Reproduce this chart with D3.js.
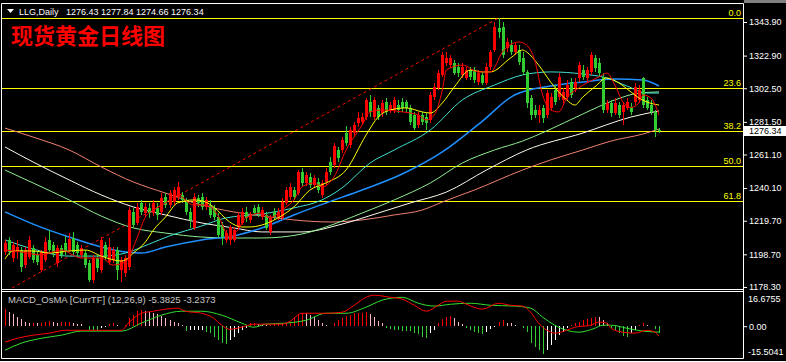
<!DOCTYPE html>
<html>
<head>
<meta charset="utf-8">
<script src="https://cdn.jsdelivr.net/npm/d3@7"></script>
<style>
	body { margin: 0; background: #000; }
	svg { display: block; }
	text { font-family: "Liberation Sans", Arial, sans-serif; }
</style>
</head>
<body>
<script>
// daily candles, oldest first (red = up, green = down)
const opens = [1200.2,1207.7,1196.4,1200.2,1201.4,1192.0,1197.0,1202.7,1198.3,1188.9,1195.2,1207.7,1204.5,1193.3,1202.7,1205.8,1201.4,1208.9,1204.5,1198.3,1199.5,1193.3,1182.7,1196.4,1188.9,1204.5,1193.9,1195.2,1201.4,1188.9,1187.0,1190.8,1225.2,1218.3,1230.8,1224.5,1227.7,1224.5,1227.7,1225.2,1234.5,1229.5,1231.4,1234.5,1235.8,1231.4,1225.2,1215.2,1233.9,1234.5,1228.3,1229.5,1227.7,1222.0,1217.0,1207.7,1207.7,1207.7,1215.8,1218.3,1225.2,1220.2,1227.7,1228.3,1222.0,1223.3,1212.7,1225.2,1221.4,1221.4,1230.8,1234.5,1238.9,1237.0,1250.2,1243.3,1247.0,1242.0,1243.9,1235.8,1243.9,1256.4,1254.5,1263.9,1263.9,1274.5,1267.0,1274.5,1280.8,1281.4,1284.5,1293.9,1284.5,1290.2,1287.0,1293.9,1288.9,1288.9,1292.0,1293.9,1293.9,1290.2,1285.8,1279.5,1285.8,1284.5,1282.7,1297.0,1302.7,1310.8,1318.3,1317.0,1318.3,1315.8,1310.8,1308.9,1313.9,1313.9,1306.4,1310.8,1305.8,1315.8,1326.4,1340.2,1340.8,1327.6,1329.5,1325.2,1326.4,1321.4,1312.7,1296.4,1288.9,1285.8,1290.2,1285.8,1290.2,1301.4,1297.0,1295.2,1297.0,1306.4,1302.7,1308.9,1313.9,1308.9,1312.7,1321.4,1318.3,1309.5,1288.9,1293.3,1287.0,1292.0,1287.7,1290.2,1290.8,1293.9,1295.2,1308.9,1295.2,1292.0,1287.7,1276.43];
const highs = [1207.7,1209.5,1206.4,1207.7,1203.3,1203.3,1210.2,1204.5,1200.2,1201.4,1209.5,1213.9,1206.4,1204.5,1204.5,1210.2,1212.0,1212.7,1206.4,1204.5,1201.4,1195.2,1198.3,1198.3,1209.5,1206.4,1208.9,1203.3,1203.3,1197.0,1198.3,1228.3,1227.7,1230.8,1232.7,1230.8,1230.8,1232.7,1230.8,1237.0,1237.0,1238.9,1240.8,1243.9,1237.7,1233.9,1227.7,1237.0,1235.8,1237.0,1234.5,1232.7,1229.5,1224.5,1218.9,1213.9,1217.0,1215.8,1225.2,1227.7,1228.3,1225.2,1229.5,1230.2,1228.3,1225.2,1223.3,1227.7,1227.7,1233.9,1240.8,1243.3,1240.8,1251.4,1252.7,1250.2,1249.5,1248.3,1246.4,1245.2,1252.7,1259.5,1268.3,1265.8,1272.0,1278.9,1278.3,1281.4,1287.7,1287.0,1296.4,1298.3,1297.0,1292.0,1295.2,1296.4,1293.9,1297.0,1295.2,1296.4,1295.2,1292.0,1287.7,1287.7,1287.7,1287.0,1300.2,1305.8,1313.9,1325.2,1325.2,1323.3,1320.2,1318.3,1318.3,1315.8,1315.8,1315.8,1313.9,1312.7,1318.3,1326.4,1343.9,1346.4,1343.9,1333.9,1332.7,1331.4,1329.5,1325.2,1313.9,1298.3,1292.0,1292.0,1292.0,1301.4,1299.5,1304.5,1312.0,1302.7,1307.7,1308.9,1308.9,1318.9,1317.0,1315.8,1325.2,1323.3,1321.4,1312.0,1295.2,1295.2,1296.4,1293.9,1293.9,1296.4,1293.3,1305.8,1304.5,1309.5,1297.0,1295.2,1288.9,1277.84];
const lows = [1198.3,1198.3,1193.9,1195.8,1187.7,1190.2,1195.8,1193.3,1192.0,1187.7,1193.9,1200.2,1197.0,1190.8,1196.4,1198.3,1200.2,1198.3,1197.0,1196.4,1190.2,1181.4,1180.8,1187.7,1187.0,1195.2,1192.0,1193.3,1182.7,1181.4,1184.5,1188.9,1215.2,1217.0,1223.3,1222.0,1221.4,1222.6,1220.2,1223.3,1227.7,1227.7,1229.5,1232.7,1230.8,1223.3,1215.2,1213.9,1228.3,1226.4,1226.4,1221.4,1220.2,1208.9,1204.5,1205.8,1204.5,1206.4,1213.9,1217.0,1218.9,1218.3,1222.6,1222.0,1220.2,1213.9,1210.8,1220.2,1220.2,1220.2,1229.5,1232.7,1232.7,1235.8,1241.4,1241.4,1240.2,1240.2,1237.0,1233.9,1242.0,1248.3,1252.7,1256.4,1262.0,1266.4,1265.2,1272.6,1278.3,1279.5,1282.7,1284.5,1282.7,1282.7,1284.5,1285.8,1287.0,1287.0,1287.0,1287.7,1287.7,1279.5,1276.4,1277.7,1279.5,1276.4,1280.8,1295.2,1301.4,1309.5,1316.4,1315.2,1310.8,1309.5,1308.9,1307.7,1307.7,1305.8,1304.5,1304.5,1304.5,1313.9,1325.2,1333.9,1321.4,1325.2,1323.3,1323.3,1317.0,1310.8,1290.2,1282.7,1283.9,1280.8,1280.8,1283.9,1288.9,1292.0,1295.2,1293.3,1295.2,1296.4,1300.2,1306.4,1307.7,1306.4,1310.8,1312.7,1309.5,1287.0,1287.0,1284.5,1285.8,1283.9,1279.5,1288.9,1285.8,1292.0,1293.3,1290.2,1288.9,1285.8,1272.0,1274.66];
const closes = [1205.8,1200.2,1204.5,1203.3,1190.8,1201.4,1207.7,1195.2,1193.9,1200.2,1206.4,1201.4,1199.5,1202.7,1198.3,1200.2,1208.3,1200.2,1199.5,1202.7,1192.0,1182.7,1196.4,1190.2,1207.7,1197.0,1203.3,1201.4,1188.9,1195.2,1196.4,1226.4,1217.0,1228.3,1225.2,1228.3,1224.5,1230.8,1223.3,1233.9,1229.5,1237.0,1238.9,1240.8,1232.7,1225.2,1220.2,1234.5,1230.8,1228.3,1232.7,1223.3,1222.0,1210.8,1209.5,1212.0,1215.8,1213.9,1223.3,1225.2,1221.4,1223.3,1224.5,1224.5,1226.4,1215.2,1221.4,1222.0,1225.2,1231.4,1238.9,1240.8,1234.5,1250.2,1243.3,1248.3,1242.0,1246.4,1238.9,1243.3,1250.2,1250.2,1266.4,1258.9,1270.2,1268.3,1276.4,1279.5,1283.9,1284.5,1295.2,1287.7,1295.2,1284.5,1293.3,1287.7,1292.0,1295.2,1288.9,1290.2,1290.2,1281.4,1277.7,1285.8,1281.4,1280.8,1298.3,1303.3,1312.0,1323.3,1321.4,1321.4,1312.0,1312.0,1315.8,1313.9,1309.5,1307.7,1312.0,1305.8,1315.8,1325.2,1340.8,1337.7,1323.3,1331.4,1325.2,1329.5,1318.9,1312.7,1293.3,1285.8,1285.8,1288.9,1283.9,1299.5,1297.0,1293.9,1309.5,1300.2,1304.5,1298.3,1306.4,1317.0,1309.5,1313.9,1323.3,1315.2,1312.0,1288.9,1293.3,1287.0,1293.3,1285.8,1292.0,1293.9,1287.7,1303.3,1301.4,1292.0,1290.2,1287.7,1276.4,1276.34];

// moving averages, [bar, price]
const maRed = [[0,1201.4],[4,1200.2],[9,1198.3],[14,1201.4],[19,1196.4],[24,1196.4],[27,1192.0],[30,1193.9],[33,1209.5],[35,1222.0],[37,1226.4],[40,1230.8],[43,1235.8],[47,1229.5],[50,1229.5],[53,1223.3],[56,1209.5],[58,1213.9],[60,1221.4],[64,1224.5],[66,1221.4],[69,1226.4],[72,1232.7],[74,1240.8],[77,1243.3],[79,1240.8],[82,1247.0],[85,1263.9],[89,1279.5],[91,1287.7],[94,1288.9],[99,1287.7],[103,1285.8],[105,1282.7],[107,1285.8],[109,1301.4],[110,1313.9],[114,1317.0],[118,1312.7],[121,1312.7],[124,1325.2],[128,1331.4],[130,1329.5],[132,1320.2],[134,1298.3],[136,1288.9],[138,1287.7],[140,1296.4],[143,1302.7],[145,1305.8],[148,1309.5],[150,1312.0],[152,1304.5],[154,1293.9],[156,1290.5],[158,1293.3],[159,1298.3],[161,1296.4],[163,1285.8]];
const maYellow = [[0,1195.8],[2,1200.8],[7,1200.8],[11,1199.5],[16,1200.8],[20,1201.4],[24,1197.6],[29,1194.5],[30,1195.2],[32,1199.5],[35,1206.4],[37,1213.9],[40,1222.0],[43,1230.8],[47,1232.7],[50,1231.4],[52,1228.3],[56,1218.9],[59,1215.8],[61,1215.8],[64,1217.0],[68,1221.4],[72,1228.3],[76,1238.9],[80,1243.3],[85,1251.4],[90,1273.3],[93,1284.5],[96,1288.9],[100,1290.2],[104,1287.7],[106,1287.0],[109,1293.3],[112,1303.3],[116,1313.9],[119,1312.7],[121,1312.7],[126,1321.4],[129,1326.4],[130,1325.2],[133,1317.0],[136,1306.4],[140,1295.2],[142,1292.0],[144,1297.0],[147,1303.3],[150,1308.9],[153,1305.8],[156,1300.2],[158,1296.4],[160,1293.9],[163,1292.0]];
const maCyan = [[0,1207.7],[7,1202.0],[16,1197.6],[24,1197.6],[30,1199.5],[36,1205.2],[41,1210.2],[49,1216.4],[55,1221.4],[64,1223.9],[72,1227.7],[79,1232.7],[84,1240.2],[91,1255.8],[97,1263.9],[106,1276.4],[114,1295.2],[122,1304.5],[129,1310.8],[136,1312.7],[144,1311.4],[150,1308.9],[155,1303.9],[160,1299.5],[163,1299.5]];
const maBlue = [[0,1225.2],[7,1217.6],[16,1209.5],[24,1203.3],[30,1200.2],[34,1199.5],[40,1203.3],[49,1207.7],[57,1210.2],[64,1215.2],[72,1223.3],[80,1230.8],[89,1238.9],[99,1248.9],[109,1262.7],[119,1282.0],[127,1298.3],[136,1303.9],[144,1306.4],[152,1308.3],[159,1307.7],[163,1303.9]];
const maLightGreen = [[0,1251.4],[7,1243.3],[16,1232.7],[24,1222.6],[32,1215.2],[40,1212.0],[49,1209.5],[57,1208.9],[64,1208.9],[74,1211.4],[80,1215.8],[89,1224.5],[97,1232.7],[106,1243.3],[114,1255.8],[122,1263.9],[129,1269.5],[135,1275.8],[144,1286.4],[152,1295.2],[158,1299.5],[163,1300.2]];
const maWhite = [[0,1265.8],[7,1256.4],[16,1245.2],[24,1235.8],[32,1228.3],[40,1223.3],[49,1218.3],[57,1215.2],[64,1212.7],[74,1212.7],[84,1217.6],[93,1224.5],[101,1230.8],[110,1237.6],[120,1251.4],[130,1263.9],[144,1274.5],[156,1284.5],[163,1288.3]];
const maSalmon = [[0,1277.6],[7,1272.0],[16,1263.9],[24,1253.3],[32,1243.9],[40,1237.0],[49,1229.5],[57,1225.2],[64,1222.7],[72,1220.2],[81,1218.9],[89,1220.2],[97,1223.3],[104,1226.4],[109,1231.4],[117,1238.9],[129,1251.4],[136,1257.7],[144,1263.9],[151,1269.5],[159,1273.9],[163,1277.0]];

// fibonacci retracement and its trend line
const fibHigh = 1346.4;
const fibLow = 1161.3;
const fibLevels = [0.0, 23.6, 38.2, 50.0, 61.8];
const trendLine = [[-10, 1161.3], [123, 1346.4]];

const priceTicks = [1343.90, 1322.90, 1302.50, 1281.50, 1261.10, 1240.10, 1219.70, 1198.70, 1178.30];
const lastPrice = 1276.34;

// MACD_OsMA sub window
const osma = [8.3,6.8,5.9,4.4,3.4,2.0,1.5,1.5,1.4,1.6,2.0,2.4,2.0,1.6,2.0,2.1,2.2,1.6,1.3,0.9,0.2,-1.8,-1.9,-1.9,-1.0,-0.3,0.9,1.4,0.6,0.2,0.5,3.9,5.4,7.3,7.8,7.3,6.8,6.3,5.9,4.9,3.9,2.9,2.0,1.5,0.5,-2.4,-2.0,-1.95,-1.9,-1.8,-2.9,-3.4,-5.4,-6.8,-8.3,-8.5,-6.8,-5.4,-3.4,-2.0,-1.0,1.5,1.5,1.2,0.8,0.5,0.7,1.0,1.4,1.6,1.8,2.2,4.6,5.9,6.6,6.3,5.4,4.4,2.9,1.5,0.5,0.3,1.5,2.9,3.9,4.9,5.4,6.3,6.3,6.5,6.8,5.9,4.4,2.4,1.5,-1.0,-1.4,-2.0,-2.0,-2.4,-2.4,-2.4,-3.4,-3.9,-5.4,-5.9,-3.4,-2.0,1.5,3.4,4.4,4.9,3.9,2.0,1.0,-1.0,-2.0,-2.9,-3.4,-3.9,-2.9,-1.5,-0.5,2.0,2.9,1.5,1.4,0.5,0.1,-1.0,-2.9,-8.3,-10.2,-11.7,-13.7,-11.7,-9.3,-6.8,-4.4,-2.9,-1.0,0.5,1.4,2.0,2.9,3.4,3.9,4.4,4.3,2.9,1.5,-1.0,-2.0,-3.4,-4.9,-5.4,-3.4,-2.0,0.5,1.4,0.5,0.3,-1.5,-3.24];
const macdLine = [[0,-7.8],[3,-5.9],[7,-4.4],[11,-3.4],[15,-2.0],[19,-2.0],[24,-2.0],[27,-2.0],[29,-2.0],[31,2.0],[34,6.3],[37,7.3],[40,8.3],[43,8.8],[45,7.3],[49,6.3],[52,3.9],[54,0.5],[56,-1.5],[59,-0.5],[62,1.0],[65,1.0],[69,1.0],[71,2.4],[74,6.3],[77,6.3],[80,6.3],[84,6.8],[87,10.2],[90,14.1],[92,15.1],[96,14.1],[99,13.2],[102,10.2],[105,7.3],[108,10.2],[110,12.2],[113,12.2],[115,10.7],[119,8.3],[123,11.2],[126,10.2],[129,9.8],[131,6.8],[133,1.5],[136,-2.9],[137,-3.4],[140,-2.0],[142,-0.5],[146,0.5],[148,2.0],[150,1.5],[151,-1.0],[154,-2.9],[157,-3.4],[160,-2.0],[162,-2.9],[163,-4.9]];
const signalLine = [[0,-11.7],[4,-8.3],[9,-5.9],[14,-4.4],[19,-2.4],[24,-2.4],[29,-2.4],[34,1.5],[39,5.4],[44,7.3],[49,7.3],[54,5.4],[59,1.5],[62,-0.5],[65,1.0],[70,1.5],[75,2.9],[80,6.3],[85,6.3],[90,9.3],[94,12.7],[99,14.1],[103,11.2],[107,9.8],[111,10.7],[116,11.2],[121,10.2],[127,9.8],[131,8.8],[134,4.4],[137,0.5],[140,-2.0],[143,-2.9],[147,-1.0],[149,0.5],[151,0.5],[155,-1.0],[159,-2.4],[163,-2.9]];
const macdMax = 16.6755;
const macdMin = -15.5041;

const width = 786;
const height = 362;
const right = 743;

const svg = d3.select("body").append("svg")
	.attr("width", width)
	.attr("height", height)
	.style("background", "#000");

const x = d3.scaleLinear().domain([0, closes.length - 1]).range([5, 659]);
const y = d3.scaleLinear().domain([1177.03, 1355.78]).range([289, 3]);
const yM = d3.scaleLinear().domain([macdMin, macdMax]).range([358, 292]);

const defs = svg.append("defs");
defs.append("clipPath").attr("id", "mainClip")
	.append("rect").attr("x", 2).attr("y", 3).attr("width", right - 2).attr("height", 286);
defs.append("clipPath").attr("id", "subClip")
	.append("rect").attr("x", 2).attr("y", 292).attr("width", right - 2).attr("height", 66);

const main = svg.append("g").attr("clip-path", "url(#mainClip)");
const sub = svg.append("g").attr("clip-path", "url(#subClip)");

// fib levels
const fibPrice = lvl => fibHigh - (fibHigh - fibLow) * lvl / 100;
main.selectAll("line.fib")
	.data(fibLevels)
	.join("line")
	.attr("class", "fib")
	.attr("x1", 2)
	.attr("x2", right)
	.attr("y1", d => Math.round(y(fibPrice(d))) + 0.5)
	.attr("y2", d => Math.round(y(fibPrice(d))) + 0.5)
	.attr("stroke", "#ffff00")
	.attr("stroke-width", 1);

main.append("line") // dashed trend line
	.attr("x1", x(trendLine[0][0]))
	.attr("y1", y(trendLine[0][1]))
	.attr("x2", x(trendLine[1][0]))
	.attr("y2", y(trendLine[1][1]))
	.attr("stroke", "#ff0000")
	.attr("stroke-width", 1)
	.attr("stroke-dasharray", "3,3");

// moving averages
const maLine = d3.line()
	.x(d => x(d[0]))
	.y(d => y(d[1]))
	.curve(d3.curveMonotoneX);
const maSeries = [
	{ data: maSalmon, color: "#f08070", w: 1 },
	{ data: maWhite, color: "#fff8ec", w: 1 },
	{ data: maLightGreen, color: "#90ee90", w: 1 },
	{ data: maBlue, color: "#1e90ff", w: 1.5 },
	{ data: maCyan, color: "#40e0d0", w: 1 },
];
main.selectAll("path.ma")
	.data(maSeries)
	.join("path")
	.attr("class", "ma")
	.attr("d", d => maLine(d.data))
	.attr("fill", "none")
	.attr("stroke", d => d.color)
	.attr("stroke-width", d => d.w);

// candles
const candles = closes.map((c, i) => ({ i, o: opens[i], h: highs[i], l: lows[i], c }));
const candleColor = d => d.c >= d.o ? "#ff0000" : "#32cd32";
main.selectAll("line.wick")
	.data(candles)
	.join("line")
	.attr("class", "wick")
	.attr("x1", d => Math.round(x(d.i)) + 0.5)
	.attr("x2", d => Math.round(x(d.i)) + 0.5)
	.attr("y1", d => y(d.h))
	.attr("y2", d => y(d.l))
	.attr("stroke", candleColor)
	.attr("shape-rendering", "crispEdges");
main.selectAll("rect.body")
	.data(candles)
	.join("rect")
	.attr("class", "body")
	.attr("x", d => Math.round(x(d.i)) - 1)
	.attr("width", 3)
	.attr("y", d => y(Math.max(d.o, d.c)))
	.attr("height", d => Math.max(1, Math.abs(y(d.o) - y(d.c))))
	.attr("fill", candleColor)
	.attr("shape-rendering", "crispEdges");

// fast averages on top of the candles
main.append("path")
	.attr("d", maLine(maYellow))
	.attr("fill", "none")
	.attr("stroke", "#ffff00")
	.attr("stroke-width", 1);
main.append("path")
	.attr("d", maLine(maRed))
	.attr("fill", "none")
	.attr("stroke", "#ff0000")
	.attr("stroke-width", 1);

// fib labels
svg.selectAll("text.fib")
	.data(fibLevels)
	.join("text")
	.attr("class", "fib")
	.attr("x", right - 2)
	.attr("y", d => Math.round(y(fibPrice(d))) - 2)
	.attr("text-anchor", "end")
	.attr("fill", "#ffff00")
	.attr("font-size", 9)
	.text(d => d.toFixed(1));

// header
svg.append("path")
	.attr("d", "M7,9L14,9L10.5,13Z")
	.attr("fill", "#fff");
svg.append("text")
	.attr("x", 19)
	.attr("y", 15)
	.attr("fill", "#fff")
	.attr("font-size", 9)
	.text("LLG,Daily");
svg.append("text")
	.attr("x", 66)
	.attr("y", 15)
	.attr("fill", "#fff")
	.attr("font-size", 9)
	.text([opens, highs, lows, closes].map(a => a[a.length - 1].toFixed(2)).join(" "));
svg.append("text")
	.attr("x", 11)
	.attr("y", 44)
	.attr("fill", "#ff0000")
	.attr("font-size", 22)
	.style("font-family", "'Noto Sans CJK SC', sans-serif")
	.style("font-weight", "bold")
	.text("现货黄金日线图");

// price axis
const priceAxis = svg.append("g")
	.attr("transform", `translate(${right},0)`)
	.call(d3.axisRight(y).tickValues(priceTicks).tickSize(4).tickPadding(2).tickFormat(d3.format(".2f")));
priceAxis.select(".domain").remove();
priceAxis.selectAll("line").attr("stroke", "#fff");
priceAxis.selectAll("text")
	.attr("fill", "#fff")
	.attr("font-size", 9)
	.style("font-family", "'Liberation Sans', Arial, sans-serif");

// last price marker
svg.append("rect")
	.attr("x", right + 1)
	.attr("y", Math.round(y(lastPrice)) - 4)
	.attr("width", width - right - 1)
	.attr("height", 10)
	.attr("fill", "#fff");
svg.append("text")
	.attr("x", right + 6)
	.attr("y", Math.round(y(lastPrice)) + 4)
	.attr("fill", "#000")
	.attr("font-size", 9)
	.text(lastPrice.toFixed(2));

// MACD histogram
const histColor = (v, i) => {
	const prev = i > 0 ? osma[i - 1] : 0;
	if (v >= 0) return v >= prev ? "#ff0000" : "#ffb6c1";
	return v <= prev ? "#32cd32" : "#ffffff";
};
sub.selectAll("line.hist")
	.data(osma)
	.join("line")
	.attr("class", "hist")
	.attr("x1", (d, i) => Math.round(x(i)) + 0.5)
	.attr("x2", (d, i) => Math.round(x(i)) + 0.5)
	.attr("y1", yM(0))
	.attr("y2", d => yM(d))
	.attr("stroke", histColor)
	.attr("stroke-width", 1)
	.attr("shape-rendering", "crispEdges");

const macdPath = d3.line()
	.x(d => x(d[0]))
	.y(d => yM(d[1]))
	.curve(d3.curveMonotoneX);
sub.append("path")
	.attr("d", macdPath(signalLine))
	.attr("fill", "none")
	.attr("stroke", "#32e032")
	.attr("stroke-width", 1);
sub.append("path")
	.attr("d", macdPath(macdLine))
	.attr("fill", "none")
	.attr("stroke", "#ff0000")
	.attr("stroke-width", 1);

svg.append("text")
	.attr("x", 8)
	.attr("y", 303)
	.attr("fill", "#c8c8c8")
	.attr("font-size", 9.5)
	.text("MACD_OsMA [CurrTF] (12,26,9) -5.3825 -3.2373");

// MACD axis
const macdAxis = svg.append("g")
	.attr("transform", `translate(${right},0)`)
	.call(d3.axisRight(yM).tickValues([0]).tickSize(4).tickPadding(2).tickFormat(d3.format(".2f")));
macdAxis.select(".domain").remove();
macdAxis.selectAll("line").attr("stroke", "#fff");
macdAxis.selectAll("text")
	.attr("fill", "#fff")
	.attr("font-size", 9)
	.style("font-family", "'Liberation Sans', Arial, sans-serif");
svg.append("text")
	.attr("x", right + 5)
	.attr("y", yM(macdMax) + 10)
	.attr("fill", "#fff")
	.attr("font-size", 9)
	.text(macdMax.toFixed(4));
svg.append("text")
	.attr("x", right + 5)
	.attr("y", yM(macdMin) - 3)
	.attr("fill", "#fff")
	.attr("font-size", 9)
	.text(macdMin.toFixed(4));

// frames
const frame = [
	[1.5, 3.5, right + 0.5, 3.5],
	[1.5, 289.5, right + 0.5, 289.5],
	[1.5, 291.5, right + 0.5, 291.5],
	[1.5, 358.5, right + 0.5, 358.5],
	[0, 361.5, width, 361.5],
	[1.5, 3.5, 1.5, 358.5],
	[right + 0.5, 3.5, right + 0.5, 358.5],
];
svg.selectAll("line.frame")
	.data(frame)
	.join("line")
	.attr("class", "frame")
	.attr("x1", d => d[0])
	.attr("y1", d => d[1])
	.attr("x2", d => d[2])
	.attr("y2", d => d[3])
	.attr("stroke", "#fff")
	.attr("stroke-width", 1);
svg.append("rect")
	.attr("x", right + 1)
	.attr("y", 0)
	.attr("width", width - right - 1)
	.attr("height", 3)
	.attr("fill", "#808080");
</script>
</body>
</html>
